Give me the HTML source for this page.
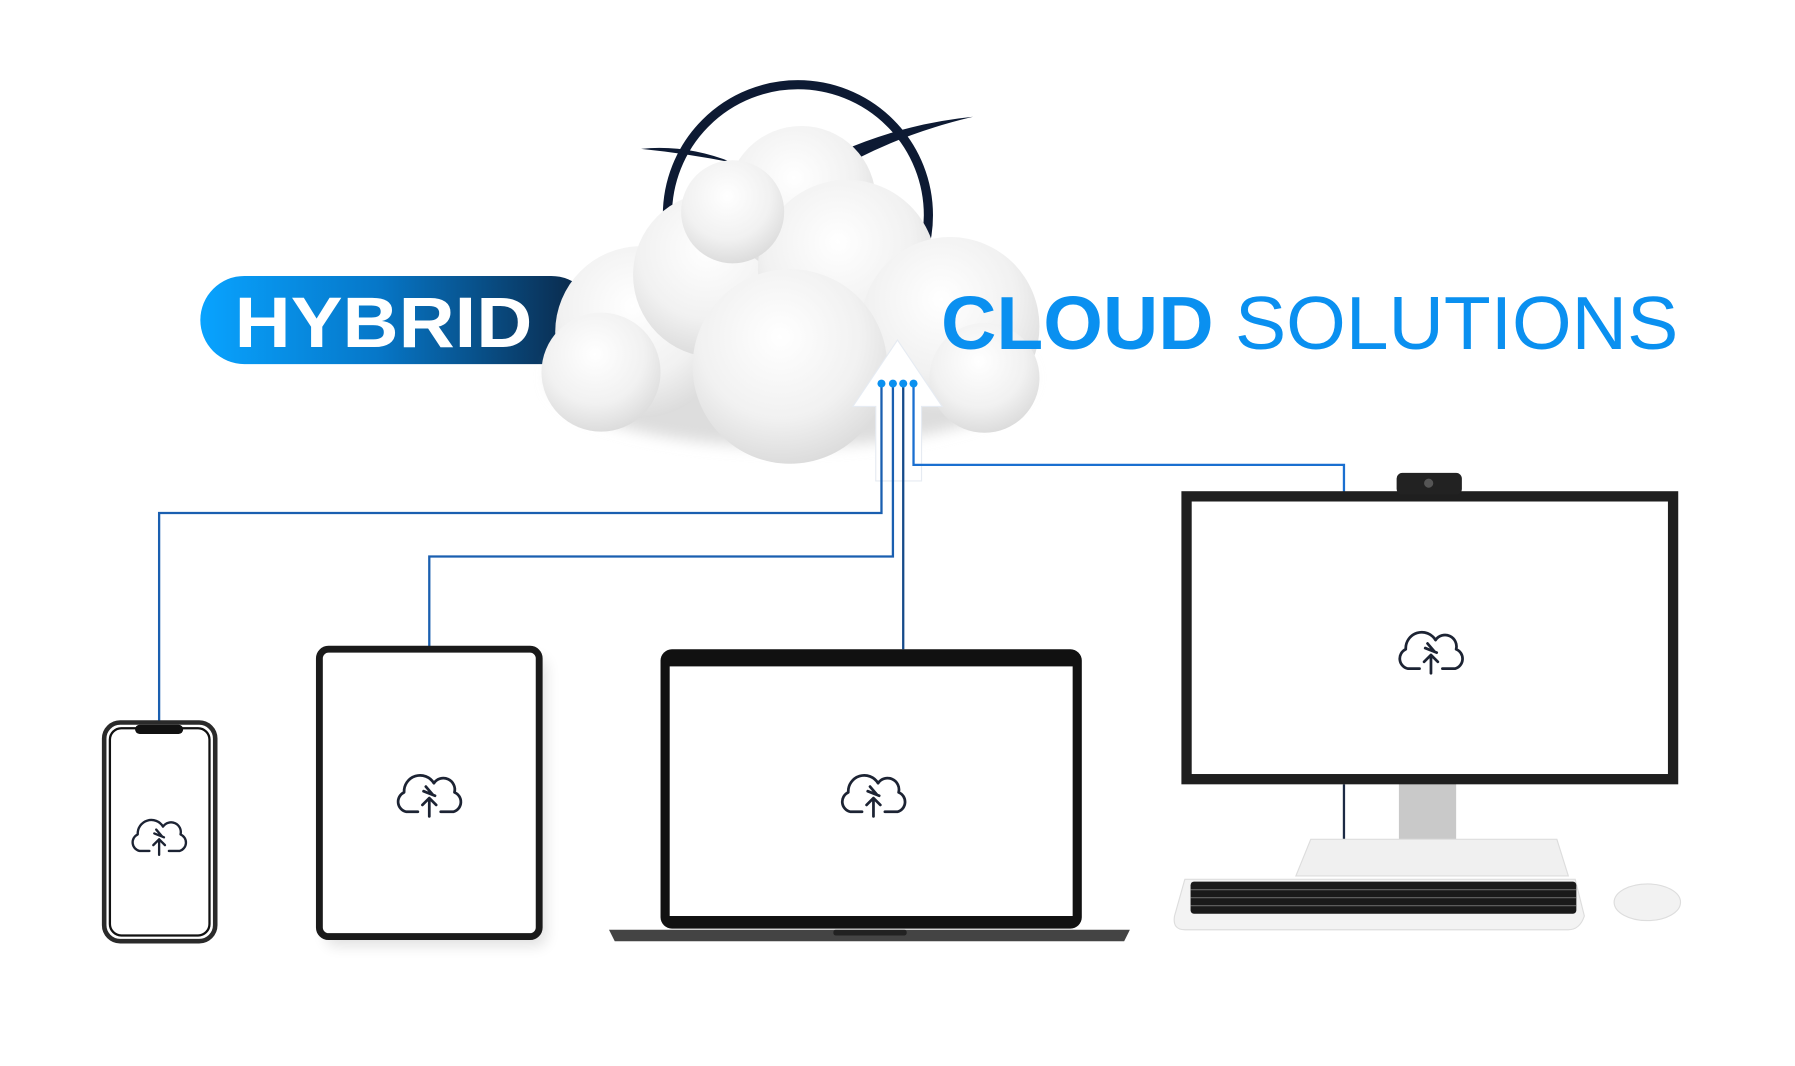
<!DOCTYPE html>
<html><head><meta charset="utf-8"><style>
html,body{margin:0;padding:0;background:#fff;}
svg{display:block;}
</style></head><body>
<svg width="1795" height="1066" viewBox="0 0 1568 931" preserveAspectRatio="none" xmlns="http://www.w3.org/2000/svg">
<defs>
<linearGradient id="pill" x1="0" x2="1" y1="0" y2="0">
<stop offset="0" stop-color="#08a3ff"/><stop offset="0.45" stop-color="#0677c8"/><stop offset="1" stop-color="#0b2340"/>
</linearGradient>
<radialGradient id="cl" cx="0.45" cy="0.35" r="0.7">
<stop offset="0" stop-color="#ffffff"/><stop offset="0.6" stop-color="#f1f1f1"/><stop offset="1" stop-color="#d8d8d8"/>
</radialGradient>
<filter id="sh" x="-20%" y="-20%" width="140%" height="140%"><feGaussianBlur stdDeviation="6"/></filter>
<g id="ic" fill="none" stroke="#1c2333" stroke-width="2.4" stroke-linecap="round" stroke-linejoin="round">
<path d="M-10,12 H-20 a9,9 0 0 1 -2,-17 a14,14 0 0 1 26,-8 a10,10 0 0 1 18,8 a9,9 0 0 1 -1,17 H10"/>
<path d="M0,16 V0 M-6,6 L0,0 L6,6"/>
<path d="M-5,-6 L5,-2 M-3,-10 L3,-3"/>
</g>
</defs>

<!-- ring -->
<circle cx="697" cy="188" r="114" fill="none" stroke="#0d1a33" stroke-width="8"/>
<path d="M560,130 Q600,126 640,142 Q600,134 560,130Z" fill="#0d1a33"/>
<path d="M735,132 Q790,108 850,102 Q795,115 750,138Z" fill="#0d1a33"/>

<!-- pill -->
<rect x="175" y="241" width="345" height="77" rx="38.5" fill="url(#pill)"/>
<text x="205" y="303" font-family="Liberation Sans, sans-serif" font-weight="bold" font-size="62" fill="#fff" textLength="260" lengthAdjust="spacingAndGlyphs">HYBRID</text>

<!-- cloud -->
<g fill="url(#cl)">
<ellipse cx="690" cy="330" rx="210" ry="60" fill="#ddd" filter="url(#sh)"/>
<circle cx="560" cy="290" r="75"/>
<circle cx="625" cy="240" r="72"/>
<circle cx="700" cy="175" r="65"/>
<circle cx="740" cy="235" r="78"/>
<circle cx="830" cy="285" r="78"/>
<circle cx="690" cy="320" r="85"/>
<circle cx="525" cy="325" r="52"/>
<circle cx="860" cy="330" r="48"/>
<circle cx="640" cy="185" r="45"/>
</g>

<text x="822" y="305" font-family="Liberation Sans, sans-serif" font-size="66" fill="#0a90f0" textLength="644" lengthAdjust="spacingAndGlyphs"><tspan font-weight="bold">CLOUD</tspan> SOLUTIONS</text>

<!-- arrow -->
<path d="M784,297 L823,355 L805,355 L805,420 L765,420 L765,355 L745,355 Z" fill="#fff" stroke="#e6ebf2" stroke-width="1"/>

<!-- connectors -->
<g fill="none" stroke-width="2">
<path d="M770,335 V448 H139 V630" stroke="#1a5fb0"/>
<path d="M780,335 V486 H375 V567" stroke="#1a5fb0"/>
<path d="M789,335 V567" stroke="#154a8a"/>
<path d="M798,335 V406 H1174 V430" stroke="#1a6fd0"/>
<path d="M1174,685 V735" stroke="#1c2a44"/>
</g>
<g fill="#0a90f0"><circle cx="770" cy="335" r="3.5"/><circle cx="780" cy="335" r="3.5"/><circle cx="789" cy="335" r="3.5"/><circle cx="798" cy="335" r="3.5"/></g>

<!-- phone -->
<rect x="91" y="631" width="97" height="191" rx="14" fill="#fff" stroke="#2a2a2a" stroke-width="4"/>
<rect x="96" y="636" width="87" height="181" rx="10" fill="none" stroke="#111" stroke-width="2"/>
<rect x="118" y="633" width="42" height="8" rx="4" fill="#111"/>
<use href="#ic" transform="translate(139,733) scale(0.85)"/>

<!-- tablet -->
<rect x="285" y="575" width="192" height="251" rx="8" fill="#000" opacity="0.12" filter="url(#sh)"/>
<rect x="279" y="567" width="192" height="251" rx="8" fill="#fff" stroke="#1a1a1a" stroke-width="6"/>
<use href="#ic" transform="translate(375,697)"/>

<!-- laptop -->
<rect x="577" y="567" width="368" height="244" rx="10" fill="#111"/>
<rect x="585" y="582" width="352" height="218" fill="#fff"/>
<path d="M532,812 H987 L982,822 H537Z" fill="#444"/>
<rect x="728" y="812" width="64" height="5" rx="2" fill="#222"/>
<use href="#ic" transform="translate(763,697)"/>

<!-- monitor -->
<rect x="1222" y="683" width="50" height="55" fill="#c9c9c9"/>
<path d="M1145,733 H1360 L1370,765 H1132Z" fill="#f0f0f0" stroke="#ddd"/>
<rect x="1032" y="429" width="434" height="256" fill="#1f1f1f"/>
<rect x="1041" y="438" width="416" height="238" fill="#fff"/>
<rect x="1220" y="413" width="57" height="19" rx="5" fill="#222"/>
<circle cx="1248" cy="422" r="4" fill="#555"/>
<use href="#ic" transform="translate(1250,572)"/>

<!-- keyboard -->
<path d="M1035,768 H1376 L1384,800 Q1380,812 1370,812 H1035 Q1024,812 1026,800Z" fill="#f3f3f3" stroke="#ddd"/>
<rect x="1040" y="770" width="337" height="28" rx="3" fill="#1a1a1a"/>
<g stroke="#666" stroke-width="1">
<path d="M1040,777 H1377 M1040,784 H1377 M1040,791 H1377"/>
</g>
<!-- mouse -->
<ellipse cx="1439" cy="788" rx="29" ry="16" fill="#f2f2f2" stroke="#ddd"/>
</svg>
</body></html>
